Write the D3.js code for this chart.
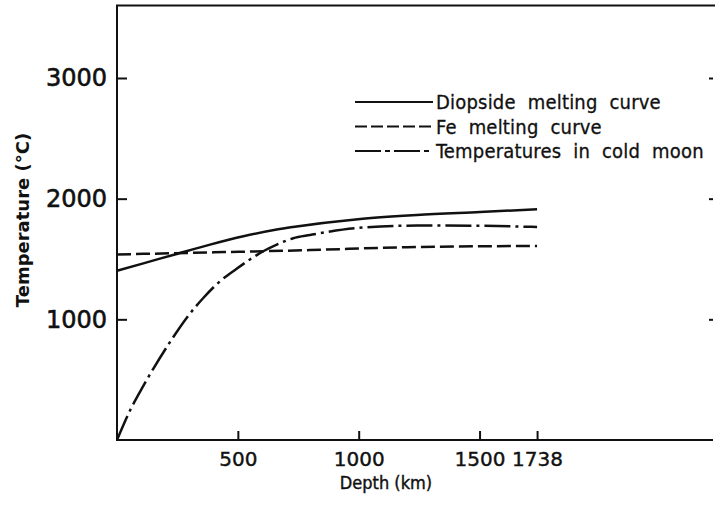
<!DOCTYPE html>
<html>
<head>
<meta charset="utf-8">
<script src="https://cdn.jsdelivr.net/npm/d3@7"></script>
<style>
    body { margin: 0; background: #fff; }
    svg { display: block; }
</style>
</head>
<body>
<div id="chart"></div>
<script>
// values
var diopsideDepth = [0, 109, 247, 385, 523, 661, 728, 997, 1241, 1502, 1738];
var diopsideTemp = [1403, 1464, 1542, 1619, 1688, 1744, 1765, 1830, 1864, 1889, 1912];

var feDepth = [0, 400, 800, 1200, 1738];
var feTemp = [1538, 1555, 1574, 1598, 1608];

var coldDepth = [0, 54, 109, 150, 219, 288, 357, 426, 495, 550, 605, 661, 729, 799, 993, 1241, 1502, 1738];
var coldTemp = [0, 245, 449, 590, 811, 1012, 1177, 1315, 1419, 1496, 1564, 1619, 1672, 1699, 1757, 1777, 1775, 1765];

var xTicks = [500, 1000, 1500, 1738];
var yTicks = [1000, 2000, 3000];
var legendNames = ["Diopside melting curve", "Fe melting curve", "Temperatures in cold moon"];

var width = 715, height = 505;

var svg = d3.select("#chart")
    .append("svg")
    .attr("width", width)
    .attr("height", height);

var x = d3.scaleLinear()
    .domain([0, 2470])
    .range([117, 714]);

var y = d3.scaleLinear()
    .domain([0, 3600])
    .range([440, 5.6]);

var ink = "#111";
var textFont = "'Liberation Sans Narrow', 'DejaVu Sans Condensed', 'DejaVu Sans'";

// frame: left, top, bottom (no right border)
svg.append("path")
    .attr("d", "M" + width + "," + y(3600) + "H" + x(0) + "V" + y(0) + "H" + (width - 2))
    .attr("fill", "none")
    .attr("stroke", ink)
    .attr("stroke-width", 2);

// y axis, ticks pointing in
var yAxis = svg.append("g")
    .attr("transform", "translate(" + x(0) + ",0)")
    .call(d3.axisLeft(y).tickValues(yTicks).tickSize(-10).tickPadding(10).tickFormat(d3.format("d")));
yAxis.select(".domain").remove();
yAxis.selectAll("line").attr("stroke", ink).attr("stroke-width", 2);
yAxis.selectAll("text")
    .attr("fill", ink)
    .attr("stroke", ink)
    .attr("stroke-width", 0.6)
    .style("font-family", "DejaVu Sans")
    .style("font-size", "24px");

// little ticks on the right edge
var rAxis = svg.append("g")
    .attr("transform", "translate(713,0)")
    .call(d3.axisRight(y).tickValues(yTicks).tickSize(-4).tickFormat(""));
rAxis.select(".domain").remove();
rAxis.selectAll("line").attr("stroke", ink).attr("stroke-width", 2);

// x axis
var xAxis = svg.append("g")
    .attr("transform", "translate(0," + y(0) + ")")
    .call(d3.axisBottom(x).tickValues(xTicks).tickSize(-9).tickPadding(12).tickFormat(d3.format("d")));
xAxis.select(".domain").remove();
xAxis.selectAll("line").attr("stroke", ink).attr("stroke-width", 2);
xAxis.selectAll("text")
    .attr("fill", ink)
    .attr("stroke", ink)
    .attr("stroke-width", 0.4)
    .style("font-family", "DejaVu Sans")
    .style("font-size", "20px");

// axis titles
svg.append("text")
    .attr("x", 386)
    .attr("y", 489)
    .attr("text-anchor", "middle")
    .attr("fill", ink)
    .attr("stroke", ink)
    .attr("stroke-width", 0.4)
    .style("font-family", textFont)
    .style("font-size", "18px")
    .text("Depth (km)");

svg.append("text")
    .attr("transform", "translate(29,220) rotate(-90)")
    .attr("text-anchor", "middle")
    .attr("fill", ink)
    .style("font-family", "DejaVu Sans")
    .style("font-weight", "bold")
    .style("font-size", "18px")
    .text("Temperature (°C)");

// curves
var line = d3.line()
    .x(d => x(d[0]))
    .y(d => y(d[1]))
    .curve(d3.curveMonotoneX);

var series = [
    {name: legendNames[0], pts: d3.zip(diopsideDepth, diopsideTemp), dash: null},
    {name: legendNames[1], pts: d3.zip(feDepth, feTemp), dash: "14,5"},
    {name: legendNames[2], pts: d3.zip(coldDepth, coldTemp), dash: "26,5,3,5"}
];

svg.selectAll(".curve")
    .data(series)
    .enter().append("path")
    .attr("class", "curve")
    .attr("d", d => line(d.pts))
    .attr("fill", "none")
    .attr("stroke", ink)
    .attr("stroke-width", 2.5)
    .attr("stroke-dasharray", d => d.dash);

// legend
var legend = svg.selectAll(".legend")
    .data(series)
    .enter().append("g")
    .attr("class", "legend")
    .attr("transform", (d, i) => "translate(0," + (102 + i * 24.5) + ")");

legend.append("line")
    .attr("x1", 355)
    .attr("x2", 433)
    .attr("stroke", ink)
    .attr("stroke-width", 2)
    .attr("stroke-dasharray", (d, i) => i === 0 ? null : (i === 1 ? "12,4" : "26,4,5,4"));

legend.append("text")
    .attr("x", 436)
    .attr("y", 7)
    .attr("fill", ink)
    .attr("stroke", ink)
    .attr("stroke-width", 0.3)
    .style("font-family", textFont)
    .style("font-size", "20px")
    .style("letter-spacing", "0.2px")
    .style("word-spacing", "6px")
    .text(d => d.name);
</script>
</body>
</html>
